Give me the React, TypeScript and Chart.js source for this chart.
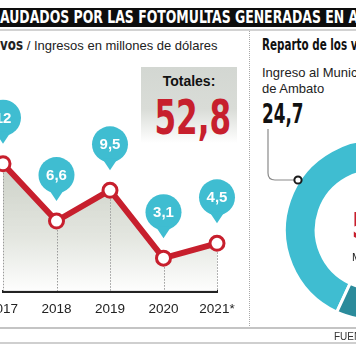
import React, { useEffect, useRef } from "react";
import { Chart, registerables } from "chart.js";

Chart.register(...registerables);

// ---- data ----
const years = ["2017", "2018", "2019", "2020", "2021*"];
const income = [12, 6.6, 9.5, 3.1, 4.5];
const incomeLabels = ["12", "6,6", "9,5", "3,1", "4,5"];
const shareNames = ["Ingreso al Municipio de Ambato", "Otros"];
const shareValues = [24.7, 28.1];
const totalText = "52,8";
const municipalText = "24,7";

const NARROW = '"Liberation Sans Narrow", "DejaVu Sans Condensed", "Arial Narrow", sans-serif';
const SANS = '"Liberation Sans", Arial, sans-serif';
const TEAL = "#3fbdd1";
const DARK_TEAL = "#2b8b9b";
const RED = "#c71f2d";

function LineChart() {
  const ref = useRef<HTMLCanvasElement | null>(null);
  useEffect(() => {
    if (!ref.current) return;
    const bubbles = {
      id: "bubbles",
      beforeDatasetDraw(chart: any) {
        const ctx = chart.ctx;
        const meta = chart.getDatasetMeta(0);
        const base = chart.scales.y.getPixelForValue(0);
        ctx.save();
        ctx.strokeStyle = "#9a9a9a";
        ctx.lineWidth = 1;
        ctx.setLineDash([1.5, 1.5]);
        meta.data.forEach((p: any) => {
          ctx.beginPath();
          ctx.moveTo(Math.round(p.x) + 0.5, p.y);
          ctx.lineTo(Math.round(p.x) + 0.5, base);
          ctx.stroke();
        });
        ctx.restore();
      },
      afterDatasetsDraw(chart: any) {
        const ctx = chart.ctx;
        const meta = chart.getDatasetMeta(0);
        ctx.save();
        meta.data.forEach((p: any, i: number) => {
          const cx = p.x;
          const cy = p.y - 46;
          const r = 18;
          ctx.fillStyle = TEAL;
          ctx.beginPath();
          ctx.arc(cx, cy, r, 0, Math.PI * 2);
          ctx.fill();
          ctx.beginPath();
          ctx.moveTo(cx - 8, cy + 14);
          ctx.lineTo(cx + 8, cy + 14);
          ctx.lineTo(cx, p.y - 20);
          ctx.closePath();
          ctx.fill();
          ctx.fillStyle = "#ffffff";
          ctx.font = `bold 15px ${SANS}`;
          ctx.textAlign = "center";
          ctx.textBaseline = "middle";
          ctx.fillText(incomeLabels[i], cx, cy + 1);
        });
        ctx.restore();
      },
    };
    const chart = new Chart(ref.current, {
      type: "line",
      data: {
        labels: years,
        datasets: [
          {
            data: income,
            borderColor: RED,
            borderWidth: 6,
            pointRadius: 7,
            pointBorderWidth: 3,
            pointBackgroundColor: "#ffffff",
            pointBorderColor: RED,
            tension: 0,
            clip: false as any,
            fill: "origin",
            backgroundColor: (c: any) => {
              const g = c.chart.ctx.createLinearGradient(0, 150, 0, 294);
              g.addColorStop(0, "rgba(196,201,190,0.95)");
              g.addColorStop(0.6, "rgba(224,227,220,0.9)");
              g.addColorStop(1, "rgba(255,255,255,0.9)");
              return g;
            },
          },
        ],
      },
      options: {
        animation: false,
        responsive: false,
        devicePixelRatio: 1,
        layout: { padding: { left: 2, right: 33, top: 0, bottom: 9 } },
        plugins: { legend: { display: false }, tooltip: { enabled: false } },
        scales: {
          x: {
            type: "category",
            offset: false,
            grid: { display: false, drawTicks: false },
            border: { display: true, color: "#222222", width: 3 },
            ticks: {
              color: "#222222",
              font: { family: SANS, size: 13.5 },
              padding: 10,
              maxRotation: 0,
              autoSkip: false,
            },
            afterFit: (s: any) => {
              s.height = 30;
              s.paddingLeft = 0;
              s.paddingRight = 0;
            },
          },
          y: { display: false, min: 0, max: 26.5 },
        },
      },
      plugins: [bubbles],
    });
    return () => chart.destroy();
  }, []);
  return (
    <canvas
      ref={ref}
      width={257}
      height={330}
      style={{ position: "absolute", left: -7, top: 0, width: 257, height: 330 }}
    />
  );
}

function Donut() {
  const ref = useRef<HTMLCanvasElement | null>(null);
  useEffect(() => {
    if (!ref.current) return;
    const chart = new Chart(ref.current, {
      type: "doughnut",
      data: {
        labels: shareNames,
        datasets: [
          {
            data: shareValues,
            backgroundColor: [TEAL, DARK_TEAL],
            borderColor: "#ffffff",
            borderWidth: 3,
          },
        ],
      },
      options: {
        animation: false,
        responsive: false,
        devicePixelRatio: 1,
        rotation: 205,
        cutout: "65%",
        layout: { padding: 0 },
        plugins: { legend: { display: false }, tooltip: { enabled: false } },
      },
    });
    return () => chart.destroy();
  }, []);
  return (
    <canvas
      ref={ref}
      width={184}
      height={184}
      style={{ position: "absolute", left: 283, top: 138, width: 184, height: 184 }}
    />
  );
}

export default function App() {
  useEffect(() => {
    document.body.style.margin = "0";
  }, []);
  const abs = (s: React.CSSProperties): React.CSSProperties => ({ position: "absolute", whiteSpace: "nowrap", ...s });
  return (
    <div style={{ position: "relative", width: 356, height: 364, overflow: "hidden", background: "#ffffff", margin: 0 }}>
      {/* header */}
      <div style={abs({ left: 0, top: 8, width: 356, height: 19, background: "#0d0d0d" })} />
      <div
        style={abs({
          left: 0,
          top: 8,
          height: 19,
          lineHeight: "19px",
          color: "#ffffff",
          fontFamily: NARROW,
          fontWeight: "bold",
          fontSize: 17,
          transform: "scaleX(0.815)",
          transformOrigin: "left top",
        })}
      >
        AUDADOS POR LAS FOTOMULTAS GENERADAS EN AMBATO
      </div>
      <div style={abs({ left: 0, top: 29, width: 356, height: 2, background: "#d2d2d2" })} />

      {/* subtitle */}
      <div style={abs({ left: 0, top: 37, fontFamily: SANS, fontSize: 13, color: "#222", lineHeight: "16px" })}>
        <span style={{ fontFamily: NARROW, fontWeight: "bold", fontSize: 15, display: "inline-block", transform: "scaleX(0.88)", transformOrigin: "left center", marginRight: -3 }}>vos</span> / Ingresos en millones de dólares
      </div>

      {/* divider */}
      <div style={abs({ left: 249, top: 31, height: 297, borderLeft: "1px dotted #a8a8a8" })} />

      {/* totals box */}
      <div
        style={abs({
          left: 141,
          top: 67,
          width: 96,
          height: 76,
          background: "linear-gradient(to bottom, #d3d7d2 0%, #d9dcd7 55%, #ffffff 100%)",
        })}
      />
      <div style={abs({ left: 141, top: 73, width: 96, textAlign: "center", fontFamily: SANS, fontWeight: "bold", fontSize: 14, color: "#111", lineHeight: "16px" })}>
        Totales:
      </div>
      <div
        style={abs({
          left: 141,
          top: 92,
          width: 96,
          textAlign: "center",
          fontFamily: NARROW,
          fontWeight: "bold",
          fontSize: 48,
          color: RED,
          lineHeight: "50px",
          transform: "scaleX(0.72)",
          transformOrigin: "center top",
        })}
      >
        {totalText}
      </div>

      <LineChart />
      <Donut />

      {/* right panel texts */}
      <div
        style={abs({
          left: 262,
          top: 36,
          fontFamily: NARROW,
          fontWeight: "bold",
          fontSize: 16,
          color: "#111",
          lineHeight: "18px",
          transform: "scaleX(0.72)",
          transformOrigin: "left top",
        })}
      >
        Reparto de los valores
      </div>
      <div style={abs({ left: 262, top: 65, fontFamily: SANS, fontSize: 13, color: "#222", lineHeight: "16px" })}>
        Ingreso al Municipio
        <br />
        de Ambato
      </div>
      <div
        style={abs({
          left: 262,
          top: 100,
          fontFamily: NARROW,
          fontWeight: "bold",
          fontSize: 26,
          color: "#111",
          lineHeight: "28px",
          transform: "scaleX(0.72)",
          transformOrigin: "left top",
        })}
      >
        {municipalText}
      </div>
      <svg width={356} height={364} style={{ position: "absolute", left: 0, top: 0 }}>
        <path d="M268 129 V173 Q268 180 275 180 H294" fill="none" stroke="#8a8a8a" strokeWidth={1.2} />
        <circle cx={298} cy={180} r={3.6} fill="#ffffff" stroke="#1a1a1a" strokeWidth={2} />
      </svg>
      <div
        style={abs({
          left: 352,
          top: 208,
          fontFamily: NARROW,
          fontWeight: "bold",
          fontSize: 36,
          color: RED,
          lineHeight: "36px",
          transform: "scaleX(0.72)",
          transformOrigin: "left top",
        })}
      >
        {totalText}
      </div>
      <div style={abs({ left: 352, top: 251, fontFamily: SANS, fontSize: 11, color: "#222", lineHeight: "13px" })}>
        Millones
      </div>

      {/* footer */}
      <div style={abs({ left: 0, top: 327, width: 356, height: 2, background: "#c4c4c4" })} />
      <div style={abs({ left: 334, top: 331, fontFamily: SANS, fontSize: 10, color: "#333", lineHeight: "12px" })}>
        FUENTE:
      </div>
      <div style={abs({ left: 0, top: 342, width: 356, height: 2, background: "#cfcfcf" })} />
    </div>
  );
}
